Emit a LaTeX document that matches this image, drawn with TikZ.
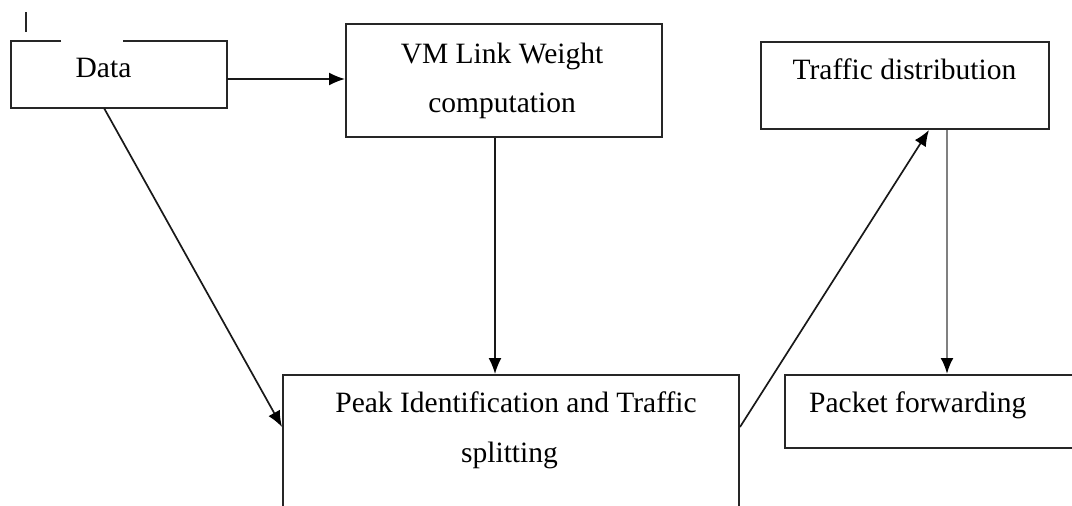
\documentclass[tikz,border=0pt]{standalone}
\usepackage{fontspec}
\setmainfont{Liberation Serif}
\usetikzlibrary{arrows.meta,calc}

\tikzset{
  box/.style={rectangle, draw=black!85, line width=2pt, inner sep=0pt, anchor=north west},
  openbox/.style={rectangle, inner sep=0pt, anchor=north west},
  lbl/.style={inner sep=0pt, anchor=base, font=\fontsize{29.5}{49}\selectfont, text=black},
  flow/.style={draw=black!90, line width=1.7pt, -{Latex[length=16pt,width=13pt,color=black]}},
  greyflow/.style={flow, draw=black!50, line width=2.4pt}
}

\begin{document}
\begin{tikzpicture}[x=1pt,y=-1pt]
\useasboundingbox (0,0) rectangle (1072,506);
\fill[white] (0,0) rectangle (1072,506);

\begin{scope}
\clip (0,0) rectangle (1072,506);

% boxes
\node[openbox, minimum width=216pt, minimum height=67pt] (data) at (11,41) {};
\draw[black!85, line width=2pt]
  ($(data.north west)+(50,0)$) -- (data.north west) -- (data.south west)
  -- (data.south east) -- (data.north east) -- ($(data.north west)+(112,0)$);
\draw[black!85, line width=2pt] (26,12) -- (26,32);

\node[box, minimum width=316pt, minimum height=113pt] (vm) at (345,23) {};
\node[box, minimum width=288pt, minimum height=87pt] (traffic) at (760,41) {};
\node[box, minimum width=456pt, minimum height=160pt] (peak) at (282,374) {};
\node[box, minimum width=320pt, minimum height=73pt] (packet) at (784,374) {};

% labels
\node[lbl] (dataT) at (103.5,77) {Data};
\node[lbl] (vmA) at (502,63) {VM Link Weight};
\node[lbl] (vmB) at (502,112) {computation};
\node[lbl] (trafficT) at (904.5,79) {Traffic distribution};
\node[lbl] (peakA) at (516,412) {Peak Identification and Traffic};
\node[lbl] (peakB) at (509.5,462) {splitting};
\node[lbl, anchor=base west] (packetT) at (809,412) {Packet forwarding};

% connectors
\draw[flow] (data.east |- vm.west) ++(0,-1.5) coordinate (d1) -- (d1 -| vm.west);
\draw[flow] ($(vm.south)+(-9,0)$) coordinate (v1) -- (v1 |- peak.north);
\draw[flow] ($(data.south)+(-15,0)$) -- ($(peak.north west)+(0,53)$);
\draw[flow] ($(peak.north east)+(0,53)$) -- ($(traffic.south)+(24,0)$);
\draw[greyflow] ($(traffic.south)+(42,0)$) coordinate (t1) -- (t1 |- packet.north);
\end{scope}
\end{tikzpicture}
\end{document}
